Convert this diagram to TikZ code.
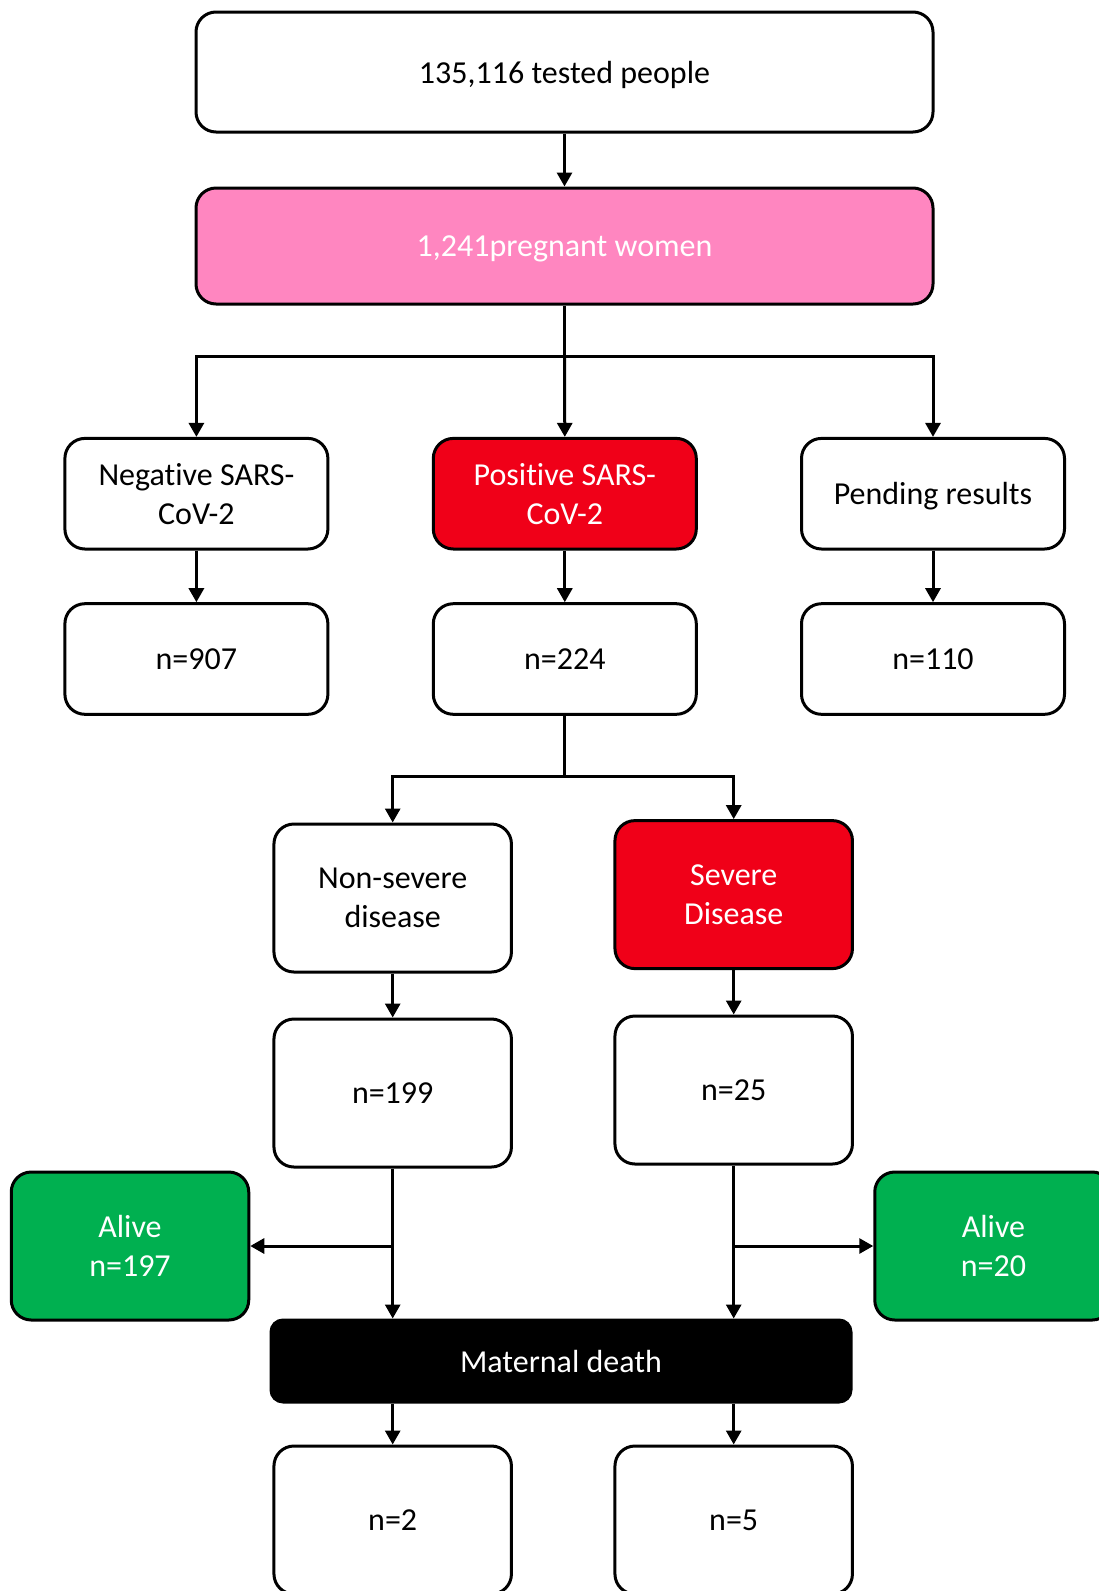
\documentclass[tikz,border=0pt]{standalone}
\usepackage{fontspec}
\setmainfont[Ligatures={NoCommon}]{Carlito}
\usetikzlibrary{arrows.meta}
\definecolor{pinkfill}{RGB}{255,134,192}
\definecolor{redfill}{RGB}{240,0,24}
\definecolor{greenfill}{RGB}{0,176,80}
\tikzset{
  box/.style={draw=black, line width=3pt, rounded corners=20pt, align=center,
    font=\fontsize{32}{39}\selectfont, inner sep=0pt, fill=white},
  wbox/.style={box, minimum width=263pt, minimum height=110.6pt},
  mbox/.style={box, minimum width=237.5pt, minimum height=148pt},
  oneline/.style={text depth=0pt},
  arr/.style={draw=black, line width=3pt, miter limit=10, -{Triangle[width=15pt,length=14pt]}},
  ln/.style={draw=black, line width=3pt},
}
\begin{document}
\begin{tikzpicture}[x=1pt,y=-1pt]
\clip (0,0) rectangle (1099,1591);
\fill[white] (0,0) rectangle (1099,1591);
% top
\node[box, oneline, minimum width=737pt, minimum height=120pt] (top) at (564.5,72) {135,116 tested people};
\node[box, oneline, minimum width=737pt, minimum height=116pt, fill=pinkfill, text=white] (preg) at (564.5,246) {1,241pregnant women};
% row 3
\node[wbox] (neg) at (196.4,493.7) {Negative SARS-\\CoV-2};
\node[wbox, fill=redfill, text=white] (pos) at (564.8,493.7) {Positive SARS-\\CoV-2};
\node[wbox, oneline] (pend) at (933,493.7) {Pending results};
% row 4
\node[wbox, yshift=0pt] (n907) at (196.4,659) {n=907};
\node[wbox] (n224) at (564.8,659) {n=224};
\node[wbox] (n110) at (933,659) {n=110};
% severity
\node[mbox] (nons) at (392.7,898) {Non-severe\\disease};
\node[mbox, fill=redfill, text=white] (sev) at (733.7,894.6) {Severe\\Disease};
\node[mbox] (n199) at (392.7,1093) {n=199};
\node[mbox] (n25) at (733.7,1090) {n=25};
% alive
\node[mbox, fill=greenfill, text=white] (aliveL) at (130,1246) {Alive\\n=197};
\node[mbox, fill=greenfill, text=white] (aliveR) at (993.5,1246) {Alive\\n=20};
% maternal death
\node[box, rounded corners=12pt, fill=black, text=white, minimum width=580pt, minimum height=82pt] (mat) at (561,1361) {Maternal death};
\node[mbox] (n2) at (392.7,1520) {n=2};
\node[mbox] (n5) at (733.7,1520) {n=5};
% connectors
\draw[arr] (top) -- (preg);
\coordinate (s1) at (564.5,356.2);
\draw[ln] (preg.south) -- (s1);
\draw[arr] (s1) -- (pos.north);
\draw[arr] (s1) -| (neg.north);
\draw[arr] (s1) -| (pend.north);
\draw[arr] (neg) -- (n907);
\draw[arr] (pos) -- (n224);
\draw[arr] (pend) -- (n110);
\coordinate (s2) at (564.8,776.3);
\draw[ln] (n224.south) -- (s2);
\draw[arr] (s2) -| (nons.north);
\draw[arr] (s2) -| (sev.north);
\draw[arr] (nons) -- (n199);
\draw[arr] (sev) -- (n25);
\coordinate (bL) at (392.7,1246);
\coordinate (bR) at (733.7,1246);
\draw[arr] (n199.south) -- (n199.south |- mat.north);
\draw[arr] (n25.south) -- (n25.south |- mat.north);
\draw[arr] (bL) -- (aliveL.east);
\draw[arr] (bR) -- (aliveR.west);
\draw[arr] (mat.south -| n2.north) -- (n2.north);
\draw[arr] (mat.south -| n5.north) -- (n5.north);
\end{tikzpicture}
\end{document}
